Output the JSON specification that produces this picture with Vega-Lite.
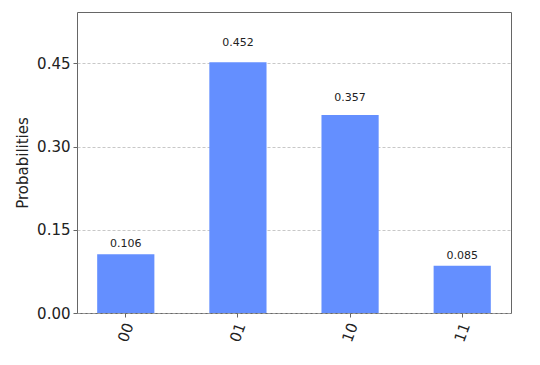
{
  "$schema": "https://vega.github.io/schema/vega-lite/v6.json",
  "width": 434,
  "height": 301,
  "autosize": "none",
  "padding": {"left": 77, "top": 12, "right": 29, "bottom": 52},
  "background": "white",
  "config": {
    "font": "DejaVu Sans",
    "view": {"stroke": "#666666", "strokeWidth": 1}
  },
  "data": {
    "values": [
      {"state": "00", "p": 0.106},
      {"state": "01", "p": 0.452},
      {"state": "10", "p": 0.357},
      {"state": "11", "p": 0.085}
    ]
  },
  "encoding": {
    "x": {
      "field": "state",
      "type": "nominal",
      "sort": null,
      "scale": {"paddingInner": 0.49, "paddingOuter": 0.18},
      "axis": {
        "title": null,
        "labelAngle": -70,
        "labelAlign": "center",
        "labelBaseline": "middle",
        "labelFontSize": 15,
        "labelColor": "#222222",
        "tickColor": "#666666",
        "tickSize": 4,
        "domain": false,
        "labelPadding": 15
      }
    },
    "y": {
      "field": "p",
      "type": "quantitative",
      "scale": {"domain": [0, 0.5424], "nice": false, "zero": true},
      "axis": {
        "title": "Probabilities",
        "titleFontSize": 15,
        "titleFontWeight": "normal",
        "titleColor": "#222222",
        "titlePadding": 6,
        "values": [0, 0.15, 0.3, 0.45],
        "format": ".2f",
        "labelFontSize": 15,
        "labelColor": "#222222",
        "tickColor": "#666666",
        "tickSize": 4,
        "labelPadding": 3,
        "domain": false,
        "grid": true,
        "gridColor": "#b0b0b0",
        "gridDash": [3, 2],
        "gridWidth": 0.7
      }
    }
  },
  "layer": [
    {
      "mark": {"type": "bar", "color": "#648fff"}
    },
    {
      "mark": {
        "type": "text",
        "fontSize": 11,
        "baseline": "bottom",
        "color": "#222222",
        "dy": {"expr": "-2 - 0.05 * datum.p * 555"}
      },
      "encoding": {
        "text": {"field": "p", "type": "quantitative", "format": ".3f"}
      }
    }
  ]
}
